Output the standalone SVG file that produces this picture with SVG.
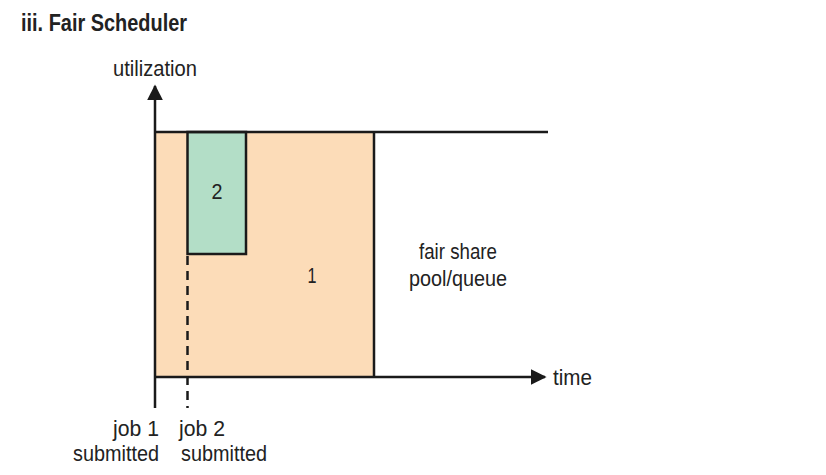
<svg xmlns="http://www.w3.org/2000/svg" width="826" height="475" viewBox="0 0 826 475">
  <defs>
    <marker id="arrow" viewBox="0 0 10 10" refX="9" refY="5" markerWidth="6.4" markerHeight="6.8" orient="auto" markerUnits="strokeWidth">
      <path d="M0,0 L10,5 L0,10 Z" fill="#1a1a1a"/>
    </marker>
    <style>
      text { font-family: "Liberation Sans Narrow", "Liberation Sans", Arial, sans-serif; fill: #222; font-size: 22px; }
      .title { font-weight: bold; font-size: 24px; }
      .line { stroke: #1a1a1a; stroke-width: 2.5; fill: none; }
      .job1 { fill: #fcdcb8; }
      .job2 { fill: #b3dec7; stroke: #1a1a1a; stroke-width: 2.5; }
    </style>
  </defs>

  <rect width="826" height="475" fill="#ffffff"/>

  <text class="title" x="21" y="31" textLength="166" lengthAdjust="spacingAndGlyphs">iii. Fair Scheduler</text>

  <!-- job 1 area -->
  <g id="job1">
    <rect class="job1" x="155" y="132" width="219" height="245"/>
    <line class="line" x1="374" y1="132" x2="374" y2="377"/>
    <text x="312" y="283" text-anchor="middle" textLength="9" lengthAdjust="spacingAndGlyphs">1</text>
  </g>

  <!-- job 2 area -->
  <g id="job2">
    <rect class="job2" x="187.5" y="132" width="58.5" height="122"/>
    <text x="217" y="199" text-anchor="middle" textLength="11" lengthAdjust="spacingAndGlyphs">2</text>
  </g>

  <!-- pool capacity line -->
  <g id="capacity">
    <line class="line" x1="155" y1="132" x2="548" y2="132"/>
    <text x="458" y="259" text-anchor="middle" textLength="78" lengthAdjust="spacingAndGlyphs">fair share</text>
    <text x="458" y="286" text-anchor="middle" textLength="98" lengthAdjust="spacingAndGlyphs">pool/queue</text>
  </g>

  <!-- axes and markers -->
  <g id="connectors">
    <line class="line" x1="155" y1="408" x2="155" y2="86" marker-end="url(#arrow)"/>
    <line class="line" x1="155" y1="377" x2="545" y2="377" marker-end="url(#arrow)"/>
    <line class="line" x1="187.5" y1="256" x2="187.5" y2="408" stroke-dasharray="9,6"/>
  </g>

  <g id="labels">
    <text x="155" y="76" text-anchor="middle" textLength="84" lengthAdjust="spacingAndGlyphs">utilization</text>
    <text x="553" y="385" textLength="39" lengthAdjust="spacingAndGlyphs">time</text>
    <text x="159" y="436" text-anchor="end" textLength="46" lengthAdjust="spacingAndGlyphs">job 1</text>
    <text x="159" y="461" text-anchor="end" textLength="86" lengthAdjust="spacingAndGlyphs">submitted</text>
    <text x="179" y="436" textLength="46" lengthAdjust="spacingAndGlyphs">job 2</text>
    <text x="181" y="461" textLength="86" lengthAdjust="spacingAndGlyphs">submitted</text>
  </g>
</svg>
